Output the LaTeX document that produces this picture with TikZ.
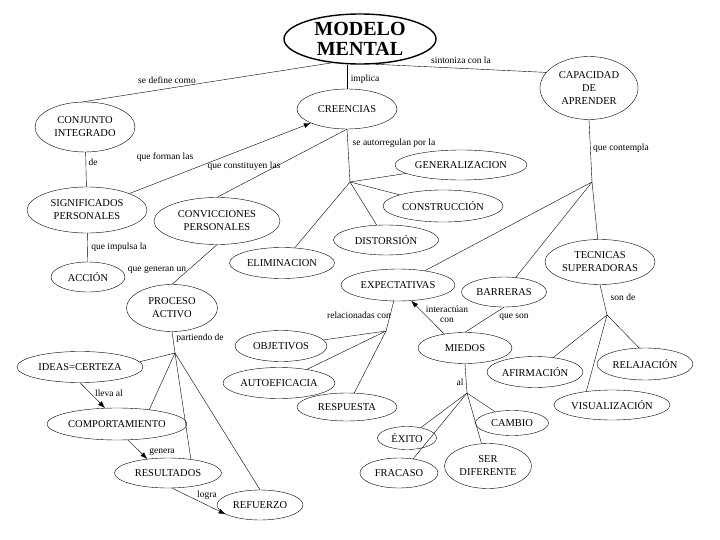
\documentclass[tikz,border=0pt]{standalone}
\usepackage{fontspec}
\setmainfont{Liberation Serif}
\usetikzlibrary{positioning,arrows.meta,shapes.geometric}

\begin{document}
\begin{tikzpicture}[
  x=1pt, y=-1pt,
  concept/.style={draw, ellipse, thin, inner sep=0pt, align=center, font=\fontsize{10.5}{13}\selectfont},
  title/.style={draw, ellipse, line width=1.4pt, inner sep=0pt, align=center, font=\fontsize{20}{20}\selectfont\bfseries},
  link/.style={thin},
  arrow/.style={-{Latex[length=7pt,width=5pt]}, thin},
  linktext/.style={font=\fontsize{9.5}{10.5}\selectfont, inner sep=1pt, align=center}
]
\fill[white] (0,0) rectangle (720,540);
\useasboundingbox (0,0) rectangle (720,540);

% main concept
\node[title, minimum width=152pt, minimum height=50pt] (modelo) at (360,39) {MODELO\\MENTAL};

% first level
\node[concept, minimum width=100pt, minimum height=50pt] (conjunto) at (85,127) {CONJUNTO\\INTEGRADO};
\node[concept, minimum width=100pt, minimum height=40pt] (creencias) at (347,109) {CREENCIAS};
\node[concept, minimum width=98pt, minimum height=63pt] (capacidad) at (589,88) {CAPACIDAD\\DE\\APRENDER};

% left branch
\node[concept, minimum width=120pt, minimum height=46pt] (significados) at (87,210) {SIGNIFICADOS\\PERSONALES};
\node[concept, minimum width=126pt, minimum height=47pt] (convicciones) at (217,221) {CONVICCIONES\\PERSONALES};
\node[concept, minimum width=74pt, minimum height=30pt] (accion) at (88,277) {ACCIÓN};
\node[concept, minimum width=91pt, minimum height=47pt] (proceso) at (172,308) {PROCESO\\ACTIVO};
\node[concept, minimum width=126pt, minimum height=31pt] (ideas) at (80,367) {IDEAS=CERTEZA};
\node[concept, minimum width=140pt, minimum height=32pt] (comportamiento) at (117,424) {COMPORTAMIENTO};
\node[concept, minimum width=107pt, minimum height=30pt] (resultados) at (168,473) {RESULTADOS};
\node[concept, minimum width=86pt, minimum height=30pt] (refuerzo) at (260,505) {REFUERZO};

% creencias branch
\node[concept, minimum width=132pt, minimum height=30pt] (generalizacion) at (461,165) {GENERALIZACION};
\node[concept, minimum width=120pt, minimum height=32pt] (construccion) at (443,206) {CONSTRUCCIÓN};
\node[concept, minimum width=105pt, minimum height=30pt] (distorsion) at (386,240) {DISTORSIÓN};
\node[concept, minimum width=105pt, minimum height=31pt] (eliminacion) at (282,263) {ELIMINACION};

% capacidad branch
\node[concept, minimum width=114pt, minimum height=32pt] (expectativas) at (398,285) {EXPECTATIVAS};
\node[concept, minimum width=85pt, minimum height=30pt] (barreras) at (504,292) {BARRERAS};
\node[concept, minimum width=110pt, minimum height=45pt] (tecnicas) at (600,262) {TECNICAS\\SUPERADORAS};
\node[concept, minimum width=92pt, minimum height=31pt] (objetivos) at (281,346) {OBJETIVOS};
\node[concept, minimum width=112pt, minimum height=31pt] (autoeficacia) at (279,383) {AUTOEFICACIA};
\node[concept, minimum width=100pt, minimum height=28pt] (respuesta) at (347,407) {RESPUESTA};
\node[concept, minimum width=94pt, minimum height=31pt] (miedos) at (465,348) {MIEDOS};
\node[concept, minimum width=96pt, minimum height=31pt] (afirmacion) at (535,372) {AFIRMACIÓN};
\node[concept, minimum width=96pt, minimum height=32pt] (relajacion) at (645,364) {RELAJACIÓN};
\node[concept, minimum width=116pt, minimum height=30pt] (visualizacion) at (612,405) {VISUALIZACIÓN};
\node[concept, minimum width=73pt, minimum height=25pt] (cambio) at (512,423) {CAMBIO};
\node[concept, minimum width=59pt, minimum height=23pt] (exito) at (407,438) {ÉXITO};
\node[concept, minimum width=78pt, minimum height=30pt] (fracaso) at (399,473) {FRACASO};
\node[concept, minimum width=87pt, minimum height=45pt] (diferente) at (488,466) {SER\\DIFERENTE};

% branching points
\coordinate (jcre) at (350,182);
\coordinate (jcap) at (592,182);
\coordinate (jtec) at (607,315);
\coordinate (jmie) at (467,393);
\coordinate (jexp) at (386,331);
\coordinate (jpro) at (175,353);

% connectors
\draw[link] (modelo.220) -- (conjunto.95);
\draw[link] (modelo.south -| creencias.north) -- (creencias.north);
\draw[link] (modelo.-60) -- (capacidad.160);
\draw[link] (conjunto) -- (significados);
\draw[arrow] (significados) -- (creencias);
\draw[link] (convicciones.north) -- (creencias.south);
\draw[link] (significados) -- (accion);
\draw[link] (convicciones.south) -- (proceso.north);
\draw[link] (proceso.south) -- (jpro);
\draw[link] (jpro) -- (ideas.5);
\draw[link] (jpro) -- (comportamiento.24);
\draw[link] (jpro) -- (resultados.31);
\draw[link] (jpro) -- (refuerzo.north);
\draw[arrow] (ideas.south) -- (comportamiento.127);
\draw[arrow] (comportamiento.-55) -- (resultados.146);
\draw[arrow] (resultados.-75) -- (refuerzo.195);

\draw[link] (creencias.south) -- (jcre);
\draw[link] (jcre) -- (generalizacion);
\draw[link] (jcre) -- (construccion);
\draw[link] (jcre) -- (distorsion);
\draw[link] (jcre) -- (eliminacion);

\draw[link] (capacidad.south) -- (jcap);
\draw[link] (jcap) -- (expectativas);
\draw[link] (jcap) -- (barreras);
\draw[link] (jcap) -- (tecnicas);
\draw[link] (tecnicas.south) -- (jtec);
\draw[link] (jtec) -- (afirmacion);
\draw[link] (jtec) -- (visualizacion.152);
\draw[link] (jtec) -- (relajacion.110);

\draw[link] (expectativas) -- (jexp);
\draw[link] (jexp) -- (respuesta);
\draw[link] (jexp) -- (objetivos);
\draw[link] (jexp) -- (autoeficacia);
\draw[arrow] (miedos.146) -- (expectativas.-50);
\draw[link] (barreras.south) -- (miedos.north);
\draw[link] (miedos.south) -- (jmie);
\draw[link] (jmie) -- (exito);
\draw[link] (jmie) -- (fracaso.45);
\draw[link] (jmie) -- (diferente);
\draw[link] (jmie) -- (cambio);

% linking words
\node[linktext] (t1) at (167,80) {se define como};
\node[linktext] (t2) at (365,79) {implica};
\node[linktext] (t3) at (461,60) {sintoniza con la};
\node[linktext] (t4) at (93,162) {de};
\node[linktext] (t5) at (165,157) {que forman las};
\node[linktext] (t6) at (244,166) {que constituyen las};
\node[linktext] (t7) at (394,143) {se autorregulan por la};
\node[linktext] (t8) at (621,148) {que contempla};
\node[linktext] (t9) at (119,247) {que impulsa la};
\node[linktext] (t10) at (157,270) {que generan un};
\node[linktext] (t11) at (200,338) {partiendo de};
\node[linktext] (t12) at (359,315) {relacionadas con};
\node[linktext] (t13) at (447,314) {interactúan\\con};
\node[linktext] (t14) at (514,317) {que son};
\node[linktext] (t15) at (623,297) {son de};
\node[linktext] (t16) at (460,382) {al};
\node[linktext] (t17) at (109,393) {lleva al};
\node[linktext] (t18) at (162,452) {genera};
\node[linktext] (t19) at (207,495) {logra};
\end{tikzpicture}
\end{document}
